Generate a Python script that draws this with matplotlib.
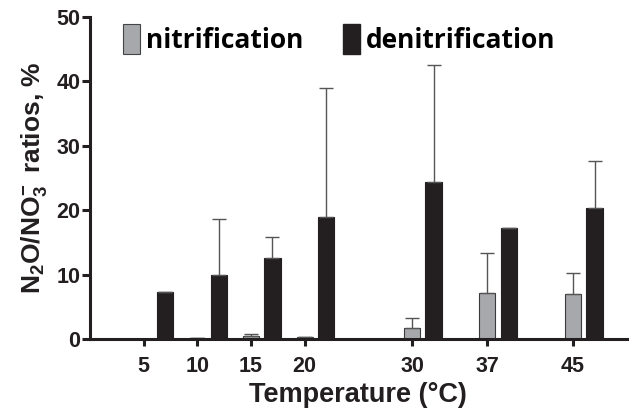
import numpy as np
import matplotlib
matplotlib.use("Agg")
import matplotlib.pyplot as plt
from matplotlib.patches import Patch

# values
temps = [5, 10, 15, 20, 30, 37, 45]
nitrification = [0.0, 0.2, 0.5, 0.3, 1.7, 7.2, 7.0]
nitrification_err = [0.0, 0.0, 0.3, 0.0, 1.6, 6.1, 3.2]
denitrification = [7.3, 10.0, 12.6, 18.9, 24.4, 17.2, 20.3]
denitrification_err = [0.0, 8.6, 3.2, 20.0, 18.1, 0.0, 7.4]
yticks = [0, 10, 20, 30, 40, 50]

plt.rcParams['font.family'] = ['Liberation Sans', 'DejaVu Sans']
plt.rcParams['font.weight'] = 'bold'
plt.rcParams['mathtext.fontset'] = 'custom'
plt.rcParams['mathtext.rm'] = 'Liberation Sans:bold'
plt.rcParams['mathtext.bf'] = 'Liberation Sans:bold'
plt.rcParams['mathtext.default'] = 'bf'

GRAY = '#a6a8ab'
BLACK = '#231f20'
ERR = '#555555'
TXT = '#231f20'


def main():
    fig = plt.figure(figsize=(6.35, 4.19), dpi=100)
    ax = fig.add_axes([0.1417, 0.1909, 0.8453, 0.7685])

    x = np.array(temps, dtype=float)
    n = len(temps)
    ek = dict(ecolor=ERR, elinewidth=1.0, capsize=4.7, capthick=1.0)

    ax.bar(x, nitrification, width=1.5, color=GRAY, edgecolor='#3a3a3a',
           linewidth=0.8, zorder=2,
           yerr=[np.zeros(n), nitrification_err], error_kw=ek)
    ax.bar(x + 2.0, denitrification, width=1.5, color=BLACK,
           edgecolor=BLACK, linewidth=0.8, zorder=2,
           yerr=[np.zeros(n), denitrification_err], error_kw=ek)

    ax.set_xlim(0, 50)
    ax.set_ylim(0, 50)
    ax.set_xticks(temps)
    ax.set_xticklabels([str(t) for t in temps])
    ax.set_yticks(yticks)

    for side in ['top', 'right']:
        ax.spines[side].set_visible(False)
    for side in ['left', 'bottom']:
        ax.spines[side].set_linewidth(2.2)
        ax.spines[side].set_color(BLACK)
        ax.spines[side].set_zorder(3)

    ax.tick_params(axis='both', direction='out', width=2.2, color=BLACK,
                   labelsize=15.5, labelcolor=TXT)
    ax.tick_params(axis='x', length=5, pad=7)
    ax.tick_params(axis='y', length=6, pad=1)

    ax.set_xlabel('Temperature (°C)', fontsize=19.5, fontweight='bold',
                  color=TXT, labelpad=4)
    ax.set_ylabel(r'N$_2$O/NO$_3^{\!-}$ ratios, %', fontsize=19,
                  fontweight='bold', color=TXT, labelpad=5)

    handles = [Patch(facecolor=GRAY, edgecolor='#444444', linewidth=0.8),
               Patch(facecolor=BLACK, edgecolor=BLACK)]
    ax.legend(handles, ['nitrification', 'denitrification'], ncol=2,
              loc='upper left', bbox_to_anchor=(0.028, 1.035), frameon=False,
              handlelength=0.62, handleheight=1.35, handletextpad=0.25,
              columnspacing=1.5, borderaxespad=0.3,
              prop={'family': 'Open Sans', 'weight': 'bold', 'size': 19})

    fig.savefig('out.png', dpi=100)
    plt.close(fig)


if __name__ == "__main__":
    main()
